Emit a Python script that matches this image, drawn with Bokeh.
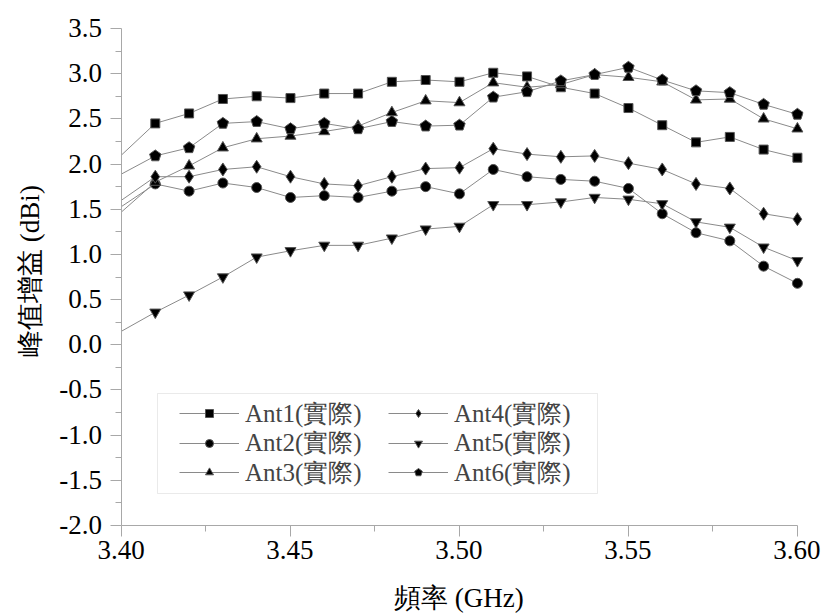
import math
from bokeh.plotting import figure
from bokeh.models import (Range1d, FixedTicker, Legend, LegendItem, BoxAnnotation,
                          ColumnDataSource, HTMLLabelSet)
from bokeh.embed import file_html
from bokeh.resources import INLINE

freq = [3.40, 3.41, 3.42, 3.43, 3.44, 3.45, 3.46, 3.47, 3.48, 3.49, 3.50,
        3.51, 3.52, 3.53, 3.54, 3.55, 3.56, 3.57, 3.58, 3.59, 3.60]
ant1 = [2.10, 2.45, 2.56, 2.72, 2.75, 2.73, 2.78, 2.78, 2.91, 2.93, 2.91,
        3.01, 2.97, 2.85, 2.78, 2.62, 2.43, 2.24, 2.30, 2.16, 2.07]
ant2 = [1.53, 1.78, 1.70, 1.79, 1.74, 1.63, 1.65, 1.63, 1.70, 1.75, 1.67,
        1.94, 1.86, 1.83, 1.81, 1.73, 1.45, 1.24, 1.15, 0.87, 0.68]
ant3 = [1.47, 1.80, 1.98, 2.18, 2.28, 2.31, 2.36, 2.42, 2.57, 2.70, 2.68,
        2.90, 2.85, 2.88, 2.99, 2.96, 2.91, 2.71, 2.72, 2.50, 2.39]
ant4 = [1.60, 1.86, 1.86, 1.94, 1.97, 1.86, 1.78, 1.76, 1.86, 1.95, 1.96,
        2.17, 2.11, 2.08, 2.09, 2.01, 1.94, 1.78, 1.73, 1.45, 1.39]
ant5 = [0.15, 0.36, 0.55, 0.75, 0.97, 1.04, 1.10, 1.10, 1.18, 1.28, 1.31,
        1.55, 1.55, 1.58, 1.63, 1.61, 1.56, 1.36, 1.30, 1.08, 0.93]
ant6 = [1.89, 2.09, 2.18, 2.45, 2.47, 2.39, 2.45, 2.39, 2.47, 2.42, 2.43,
        2.74, 2.80, 2.92, 2.99, 3.07, 2.93, 2.81, 2.79, 2.66, 2.55]

names = ["Ant1(實際)", "Ant2(實際)", "Ant3(實際)", "Ant4(實際)", "Ant5(實際)", "Ant6(實際)"]
series = [ant1, ant2, ant3, ant4, ant5, ant6]
markers = ["square", "circle", "triangle", "diamond", "inverted_triangle", "pentagon"]

x_ticks = [3.40, 3.45, 3.50, 3.55, 3.60]
x_tick_labels = ["3.40", "3.45", "3.50", "3.55", "3.60"]
x_minor = [3.425, 3.475, 3.525, 3.575]
y_ticks = [-2.0, -1.5, -1.0, -0.5, 0.0, 0.5, 1.0, 1.5, 2.0, 2.5, 3.0, 3.5]
y_tick_labels = ["-2.0", "-1.5", "-1.0", "-0.5", "0.0", "0.5", "1.0", "1.5",
                 "2.0", "2.5", "3.0", "3.5"]
y_minor = [-1.75, -1.25, -0.75, -0.25, 0.25, 0.75, 1.25, 1.75, 2.25, 2.75, 3.25]
x_title = "頻率 (GHz)"
y_title = "峰值增益 (dBi)"

FONT = "Liberation Serif"
AX = "#a8a8a8"
X0, X1 = x_ticks[0], x_ticks[-1]
Y0, Y1 = y_ticks[0], y_ticks[-1]

p = figure(frame_width=682, frame_height=497,
           x_range=Range1d(X0, 3.6018), y_range=Range1d(Y0, Y1),
           output_backend="svg", toolbar_location=None,
           min_border_left=121, min_border_top=28, min_border_right=22, min_border_bottom=88)
p.outline_line_color = None
p.xgrid.visible = False
p.ygrid.visible = False
p.background_fill_color = "white"

xax = p.below[0]
yax = p.left[0]
for ax in (xax, yax):
    ax.axis_line_color = AX
    ax.major_tick_line_color = AX
    ax.minor_tick_line_color = AX
    ax.major_tick_in = 0
    ax.minor_tick_in = 0
    ax.major_tick_out = 11
    ax.minor_tick_out = 6
    ax.major_label_text_alpha = 0

xax.ticker = FixedTicker(ticks=x_ticks, minor_ticks=x_minor)
xax.major_label_overrides = {t: "" for t in x_ticks}
xax.bounds = (X0, X1)
yax.ticker = FixedTicker(ticks=y_ticks, minor_ticks=y_minor)
yax.major_label_overrides = {t: "" for t in y_ticks}

txt = dict(text_font=FONT, text_font_size="27px", text_color="black", level="overlay")

xsrc = ColumnDataSource(dict(x=x_ticks, y=[Y0] * len(x_ticks), t=x_tick_labels))
p.add_layout(HTMLLabelSet(x="x", y="y", text="t", source=xsrc,
                          text_align="center", text_baseline="middle", y_offset=-25, **txt))
ysrc = ColumnDataSource(dict(x=[X0] * len(y_ticks), y=y_ticks, t=y_tick_labels))
p.add_layout(HTMLLabelSet(x="x", y="y", text="t", source=ysrc,
                          text_align="right", text_baseline="middle", x_offset=-19, **txt))
xtsrc = ColumnDataSource(dict(x=[(X0 + X1) / 2], y=[Y0], t=[x_title]))
p.add_layout(HTMLLabelSet(x="x", y="y", text="t", source=xtsrc,
                          text_align="center", text_baseline="middle", y_offset=-73, **txt))
ytsrc = ColumnDataSource(dict(x=[X0], y=[(Y0 + Y1) / 2], t=[y_title]))
p.add_layout(HTMLLabelSet(x="x", y="y", text="t", source=ytsrc, angle=math.pi / 2,
                          text_align="center", text_baseline="middle",
                          x_offset=-91, y_offset=6, **txt))

renderers = []
for ys, mk in zip(series, markers):
    ln = p.line(freq, ys, line_color="#8a8a8a", line_width=1)
    xs, yv = freq[1:], ys[1:]
    if mk == "pentagon":
        sc = p.ngon(x=xs, y=yv, radius=6, radius_units="screen", n=5,
                    fill_color="black", line_color="#555555", line_width=1)
    else:
        sz = {"square": 9, "circle": 10, "triangle": 11, "diamond": 13,
              "inverted_triangle": 11}[mk]
        sc = p.scatter(xs, yv, marker=mk, size=sz, fill_color="black",
                       line_color="#555555", line_width=1)
    renderers.append([ln, sc])

frame_box = BoxAnnotation(left=157, right=597, top=393, bottom=493,
                          left_units="canvas", right_units="canvas",
                          top_units="canvas", bottom_units="canvas",
                          fill_color="white", fill_alpha=1.0,
                          line_color="#bbbbbb", line_width=1, level="annotation")
p.add_layout(frame_box)

for i, (name, rs) in enumerate(zip(names, renderers)):
    row, col = i % 3, i // 3
    lg = Legend(items=[LegendItem(label=name, renderers=rs)],
                location=(58 + 209 * col, 95.5 - 29.5 * row),
                padding=0, spacing=0, margin=0,
                glyph_width=60, glyph_height=20, label_standoff=6, label_height=18,
                label_text_font=FONT, label_text_font_size="25px",
                border_line_alpha=0, background_fill_alpha=0)
    p.add_layout(lg, "center")

open("out.html", "w").write(file_html(p, INLINE))
